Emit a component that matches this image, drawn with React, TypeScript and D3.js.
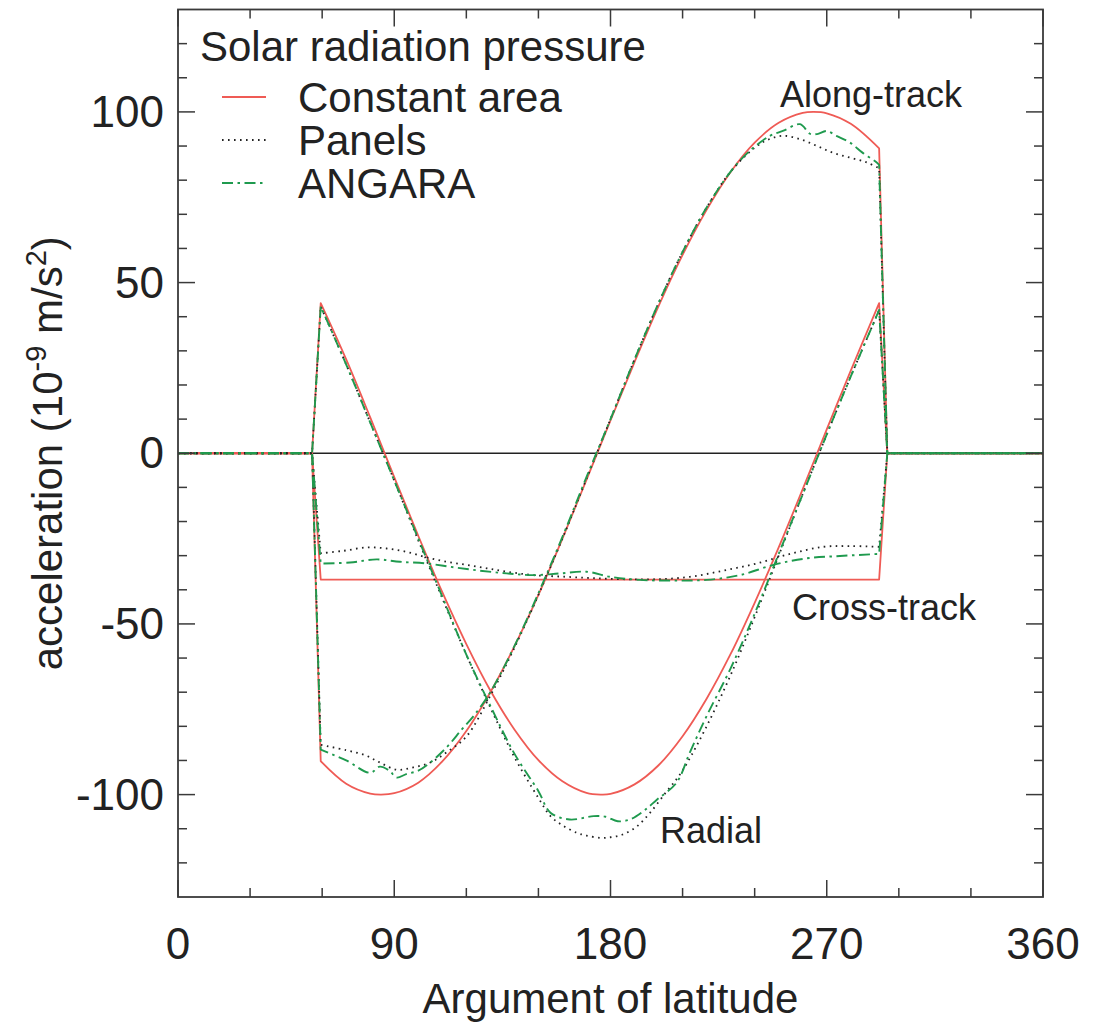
import React from "react";
import * as d3 from "d3";

// ---- data (argument of latitude in degrees, acceleration in 1e-9 m/s^2) ----
const SHADOW_EXIT = 55.8;
const SUN_START = 59.4;
const SUN_END = 291.8;
const SHADOW_ENTRY = 295.2;

const radialConstant: [number, number][] = [
  [0, 0], [55.8, 0], [59.4, 44], [70, 27.5], [80, 10.5], [90, -7], [100, -24.2], [110, -40.7],
  [120, -55.9], [130, -69.5], [140, -80.9], [150, -89.9], [160, -96.1], [170, -99.5], [176, -100],
  [180, -99.8], [190, -97], [200, -91.4], [210, -82.9], [220, -71.9], [230, -58.8], [240, -43.8],
  [250, -27.6], [260, -10.5], [270, 7], [280, 24.2], [291.8, 44], [295.2, 0], [360, 0],
];
const alongConstant: [number, number][] = [
  [0, 0], [55.8, 0], [59.4, -90.2], [70, -96.8], [80, -99.7], [84.5, -100], [90, -99.6], [100, -96.5],
  [110, -90.3], [120, -81.4], [130, -70], [140, -56.6], [150, -41.5], [160, -25], [170, -7.8],
  [180, 9.6], [190, 26.7], [200, 43.1], [210, 58.1], [220, 71.3], [230, 82.4], [240, 91],
  [250, 96.8], [260, 99.7], [264.5, 100], [270, 99.6], [280, 96.5], [291.8, 89.3], [295.2, 0], [360, 0],
];
const crossConstant: [number, number][] = [
  [0, 0], [55.8, 0], [59.4, -37], [150, -37], [291.8, -37], [295.2, 0], [360, 0],
];

const radialPanels: [number, number][] = [
  [0, 0], [55.8, 0], [59.4, 43], [70, 26], [80, 9], [90, -8], [100, -25.5], [110, -42.5], [120, -59],
  [130, -74.5], [140, -89], [150, -101], [155, -106.3], [160, -109], [166, -111.2], [170, -112],
  [176, -112.7], [180, -112.5], [185, -111.7], [191, -109.3], [196.5, -105.3], [203, -99.4],
  [208, -95], [212, -90.6], [220, -80], [230, -65], [240, -48], [250, -30], [260, -12],
  [270, 5.5], [280, 22.5], [290, 39], [291.8, 42], [295.2, 0], [360, 0],
];
const alongPanels: [number, number][] = [
  [0, 0], [55.8, 0], [59.4, -85.4], [70, -87], [78, -88.5], [84, -90.6], [91, -92.7], [98, -92],
  [105, -90.6], [112, -87.5], [120, -83], [130, -71], [140, -57], [150, -41.5], [160, -25],
  [170, -7.5], [180, 10], [190, 27.5], [200, 44], [210, 59], [220, 72], [230, 82.5], [240, 89.5],
  [246, 92], [252, 93], [259, 92], [266, 90], [272.7, 88], [279.7, 86.6], [286.6, 85.2],
  [291.8, 83.5], [295.2, 0], [360, 0],
];
const crossPanels: [number, number][] = [
  [0, 0], [55.8, 0], [59.4, -29.3], [68.7, -28.6], [78.5, -27.6], [86.9, -27.9], [95.2, -28.9],
  [103.5, -30.5], [111.8, -31.8], [120.1, -32.7], [128.5, -33.7], [136.8, -34.7], [147.9, -35.7],
  [161.7, -36.2], [172.8, -36.6], [185.3, -36.9], [199.2, -36.9], [213.1, -36.2], [226.9, -34.4],
  [240.8, -32.3], [254.7, -29.5], [268.6, -27.4], [280, -27.2], [291.8, -27.4], [295.2, 0], [360, 0],
];

const radialAngara: [number, number][] = [
  [0, 0], [55.8, 0], [59.4, 43], [70, 26], [80, 9], [90, -8], [100, -25], [110, -42], [120, -59],
  [130, -74], [140, -88], [150, -99], [155, -105.3], [163, -107.3], [173, -106.3], [178, -106.5],
  [183, -107.8], [188, -107.3], [193.6, -104.9], [199.3, -101.5], [207.5, -96.5], [213, -87.7],
  [220, -77], [230, -63], [240, -47], [250, -29.5], [260, -12], [270, 5.5], [280, 22.5],
  [290, 39], [291.8, 42], [295.2, 0], [360, 0],
];
const alongAngara: [number, number][] = [
  [0, 0], [55.8, 0], [59.4, -86.8], [70, -90], [80, -93.6], [84, -91.8], [88, -93], [91, -95],
  [95, -94], [100, -93], [105, -90.6], [112, -86], [118, -81], [123, -77], [130, -70],
  [140, -56.5], [150, -41], [160, -24.5], [170, -7], [180, 10], [190, 27.5], [200, 44], [210, 59],
  [220, 72], [230, 82.5], [238, 88.6], [246.4, 93], [252, 94.5], [258.9, 96.4], [263, 93.6],
  [266, 93.5], [270, 94.4], [274, 93], [279.7, 91], [285, 88], [290.8, 85.2], [291.8, 84.5],
  [295.2, 0], [360, 0],
];
const crossAngara: [number, number][] = [
  [0, 0], [55.8, 0], [59.4, -32.3], [71.6, -32], [82.7, -31.1], [92.4, -31.8], [103.5, -32.3],
  [114.6, -33.4], [125.7, -34.4], [136.8, -35.2], [147.9, -35.7], [159, -35.2], [170, -34.7],
  [179.8, -36.2], [192.3, -37.1], [206.2, -37.3], [220, -37.1], [233.9, -35.7], [247.8, -32.7],
  [261.6, -30.8], [275.5, -30.1], [291.8, -29.5], [295.2, 0], [360, 0],
];

const xMajorTicks = [0, 90, 180, 270, 360];
const xMinorTicks = [30, 60, 120, 150, 210, 240, 300, 330];
const yMajorTicks = [-100, -50, 0, 50, 100];
const yMinorTicks = [-120, -110, -90, -80, -70, -60, -40, -30, -20, -10, 10, 20, 30, 40, 60, 70, 80, 90, 110, 120];

const legendTitle = "Solar radiation pressure";
const legendNames = ["Constant area", "Panels", "ANGARA"];

// ---- layout ----
const W = 1095;
const H = 1027;
const left = 178;
const right = 1043;
const top = 9.5;
const bottom = 897;

const RED = "#ef5b55";
const GREEN = "#1f9a4e";
const BLACK = "#222";
const FRAME = "#3a3a3a";
const FONT = "'Liberation Sans', Arial, Helvetica, sans-serif";

const x = d3.scaleLinear().domain([0, 360]).range([left, right]);
const y = d3.scaleLinear().domain([-130, 130]).range([bottom, top]);

const lin = d3.line<[number, number]>().x((d) => x(d[0])).y((d) => y(d[1]));
const smooth = d3
  .line<[number, number]>()
  .x((d) => x(d[0]))
  .y((d) => y(d[1]))
  .curve(d3.curveCatmullRom.alpha(0.5));

function makePath(pts: [number, number][]): string {
  const l = pts.filter((p) => p[0] <= SUN_START);
  const m = pts.filter((p) => p[0] >= SUN_START && p[0] <= SUN_END);
  const r = pts.filter((p) => p[0] >= SUN_END);
  const a = lin(l) || "";
  const b = (smooth(m) || "").replace(/^M/, "L");
  const c = (lin(r) || "").replace(/^M/, "L");
  return a + b + c;
}

const series = [
  { data: [radialConstant, alongConstant, crossConstant], color: RED, dash: "none", width: 1.8 },
  { data: [radialPanels, alongPanels, crossPanels], color: BLACK, dash: "1.6 4.4", width: 1.8 },
  { data: [radialAngara, alongAngara, crossAngara], color: GREEN, dash: "11 4.5 2.5 4.5", width: 1.9 },
];

export default function App() {
  const legendY = [97, 140, 183];
  return (
    <svg width={W} height={H} style={{ display: "block", position: "absolute", left: 0, top: 0, background: "#fff" }}>
      <rect x={0} y={0} width={W} height={H} fill="#fff" />
      {/* zero line */}
      <line x1={left} x2={right} y1={y(0)} y2={y(0)} stroke={BLACK} strokeWidth={1.6} />
      {/* series */}
      {series.map((s, i) =>
        s.data.map((d, j) => (
          <path
            key={`${i}-${j}`}
            d={makePath(d)}
            fill="none"
            stroke={s.color}
            strokeWidth={s.width}
            strokeDasharray={s.dash}
            strokeLinejoin="round"
          />
        ))
      )}
      {/* frame */}
      <rect x={left} y={top} width={right - left} height={bottom - top} fill="none" stroke={FRAME} strokeWidth={1.8} />
      {/* ticks */}
      {xMajorTicks.map((t) => (
        <g key={`xM${t}`}>
          <line x1={x(t)} x2={x(t)} y1={bottom} y2={bottom - 17} stroke={FRAME} strokeWidth={1.5} />
          <line x1={x(t)} x2={x(t)} y1={top} y2={top + 17} stroke={FRAME} strokeWidth={1.5} />
        </g>
      ))}
      {xMinorTicks.map((t) => (
        <g key={`xm${t}`}>
          <line x1={x(t)} x2={x(t)} y1={bottom} y2={bottom - 9} stroke={FRAME} strokeWidth={1.5} />
          <line x1={x(t)} x2={x(t)} y1={top} y2={top + 9} stroke={FRAME} strokeWidth={1.5} />
        </g>
      ))}
      {yMajorTicks.map((t) => (
        <g key={`yM${t}`}>
          <line x1={left} x2={left + 17} y1={y(t)} y2={y(t)} stroke={FRAME} strokeWidth={1.5} />
          <line x1={right} x2={right - 17} y1={y(t)} y2={y(t)} stroke={FRAME} strokeWidth={1.5} />
        </g>
      ))}
      {yMinorTicks.map((t) => (
        <g key={`ym${t}`}>
          <line x1={left} x2={left + 9} y1={y(t)} y2={y(t)} stroke={FRAME} strokeWidth={1.5} />
          <line x1={right} x2={right - 9} y1={y(t)} y2={y(t)} stroke={FRAME} strokeWidth={1.5} />
        </g>
      ))}
      {/* tick labels */}
      <g fontFamily={FONT} fontSize={44} fill="#222">
        {xMajorTicks.map((t) => (
          <text key={`xl${t}`} x={x(t)} y={959} textAnchor="middle">
            {t}
          </text>
        ))}
        {yMajorTicks.map((t) => (
          <text key={`yl${t}`} x={164} y={y(t) + 15} textAnchor="end">
            {t}
          </text>
        ))}
      </g>
      {/* axis titles */}
      <text x={(left + right) / 2} y={1013} textAnchor="middle" fontFamily={FONT} fontSize={42} fill="#222">
        Argument of latitude
      </text>
      <text
        transform={`translate(62, ${y(0)}) rotate(-90)`}
        textAnchor="middle"
        fontFamily={FONT}
        fontSize={42}
        fill="#222"
      >
        acceleration (10
        <tspan dy={-16} fontSize={29}>-9</tspan>
        <tspan dy={16}> m/s</tspan>
        <tspan dy={-16} fontSize={29}>2</tspan>
        <tspan dy={16}>)</tspan>
      </text>
      {/* legend */}
      <g fontFamily={FONT} fontSize={42} fill="#222">
        <text x={200} y={61}>{legendTitle}</text>
        {legendNames.map((n, i) => (
          <g key={n}>
            <line
              x1={222}
              x2={266}
              y1={legendY[i]}
              y2={legendY[i]}
              stroke={series[i].color}
              strokeWidth={series[i].width}
              strokeDasharray={series[i].dash}
            />
            <text x={298} y={legendY[i] + 15}>{n}</text>
          </g>
        ))}
      </g>
      {/* annotations */}
      <g fontFamily={FONT} fontSize={36} fill="#222">
        <text x={780} y={107}>Along-track</text>
        <text x={792} y={620}>Cross-track</text>
        <text x={660} y={843}>Radial</text>
      </g>
    </svg>
  );
}
